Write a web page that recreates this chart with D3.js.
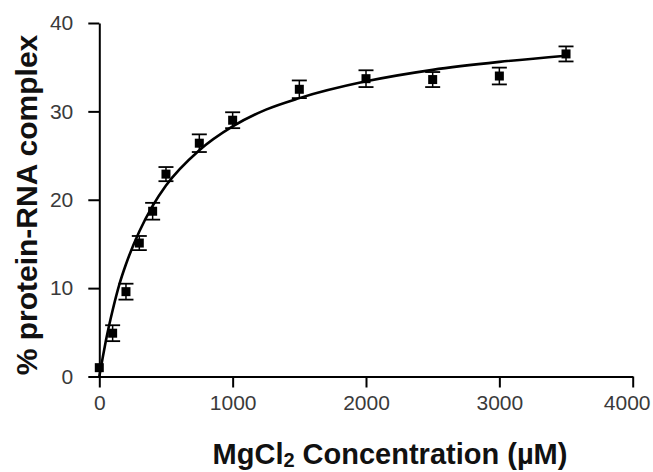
<!DOCTYPE html>
<html>
<head>
<meta charset="utf-8">
<script src="https://cdn.jsdelivr.net/npm/d3@7"></script>
<style>
  body { margin: 0; background: #fff; }
  .tick text { font-family: "Liberation Sans", Arial, sans-serif; font-size: 21px; fill: #3a3a3a; }
  .axis-title { font-family: "Liberation Sans", Arial, sans-serif; font-weight: bold; fill: #111; }
</style>
</head>
<body>
<div id="chart"></div>
<script>
// measured points (MgCl2 in uM, % complex, error)
const concentrations = [0, 100, 200, 300, 400, 500, 750, 1000, 1500, 2000, 2500, 3000, 3500];
const percentComplex = [1.0, 4.9, 9.6, 15.1, 18.7, 22.9, 26.4, 29.0, 32.5, 33.7, 33.6, 34.0, 36.5];
const errors = [0.3, 0.9, 0.9, 0.8, 0.95, 0.8, 1.0, 0.9, 1.0, 0.95, 0.85, 0.95, 0.85];

// fitted binding curve
const fitX = [0, 25, 50, 100, 150, 200, 300, 400, 500, 750, 1000, 1250, 1500, 2000, 2500, 3000, 3500];
const fitY = [0, 2.1, 4.1, 7.5, 10.4, 12.7, 16.4, 19.3, 21.6, 25.6, 28.3, 30.2, 31.5, 33.4, 34.7, 35.6, 36.3];

const xTicks = [0, 1000, 2000, 3000, 4000];
const yTicks = [0, 10, 20, 30, 40];

const W = 653, H = 472;
const svg = d3.select("#chart").append("svg")
    .attr("width", W).attr("height", H);

const x = d3.scaleLinear().domain([0, 4000]).range([99.3, 632.7]);
const y = d3.scaleLinear().domain([0, 40]).range([376.5, 23]);

// x axis
const gx = svg.append("g")
    .attr("transform", "translate(0," + y(0) + ")")
    .call(d3.axisBottom(x).tickValues(xTicks).tickSize(11).tickSizeOuter(0).tickPadding(8).tickFormat(d3.format("d")));
gx.select(".domain").attr("stroke", "#000").attr("stroke-width", 2);
gx.selectAll(".tick line").attr("stroke", "#000").attr("stroke-width", 2);
// last label pulled in so it stays on the page
gx.selectAll(".tick").filter(function(d){ return d === 4000; }).select("text")
    .attr("text-anchor", "end").attr("x", W - 3 - x(4000));

// y axis
const gy = svg.append("g")
    .attr("transform", "translate(" + x(0) + ",0)")
    .call(d3.axisLeft(y).tickValues(yTicks).tickSize(11).tickSizeOuter(0).tickPadding(15));
gy.select(".domain").attr("stroke", "#000").attr("stroke-width", 2);
gy.selectAll(".tick line").attr("stroke", "#000").attr("stroke-width", 2);

// fit line
const fitData = fitX.map(function(d, i){ return [d, fitY[i]]; });
svg.append("path").datum(fitData)
    .attr("fill", "none").attr("stroke", "#000").attr("stroke-width", 2.6)
    .attr("d", d3.line().x(function(d){ return x(d[0]); }).y(function(d){ return y(d[1]); })
        .curve(d3.curveMonotoneX));

// points with error bars
const pts = concentrations.map(function(c, i){ return {c: c, v: percentComplex[i], e: errors[i]}; });
const g = svg.selectAll(".pt").data(pts).enter().append("g").attr("class", "pt");
const cap = 7.5;
g.append("line")
    .attr("x1", function(d){ return x(d.c); }).attr("x2", function(d){ return x(d.c); })
    .attr("y1", function(d){ return y(d.v + d.e); }).attr("y2", function(d){ return y(d.v - d.e); })
    .attr("stroke", "#000").attr("stroke-width", 1.5);
g.filter(function(d){ return d.c > 0; }).append("line")
    .attr("x1", function(d){ return x(d.c) - cap; }).attr("x2", function(d){ return x(d.c) + cap; })
    .attr("y1", function(d){ return y(d.v + d.e); }).attr("y2", function(d){ return y(d.v + d.e); })
    .attr("stroke", "#000").attr("stroke-width", 1.8);
g.filter(function(d){ return d.c > 0; }).append("line")
    .attr("x1", function(d){ return x(d.c) - cap; }).attr("x2", function(d){ return x(d.c) + cap; })
    .attr("y1", function(d){ return y(d.v - d.e); }).attr("y2", function(d){ return y(d.v - d.e); })
    .attr("stroke", "#000").attr("stroke-width", 1.8);
g.append("rect")
    .attr("x", function(d){ return x(d.c) - 4.5; })
    .attr("y", function(d){ return y(d.v) - 4.5; })
    .attr("width", 9).attr("height", 9)
    .attr("fill", "#000");

// axis titles
svg.append("text").attr("class", "axis-title")
    .attr("transform", "translate(37,205) rotate(-90)")
    .attr("text-anchor", "middle")
    .style("font-size", "30px")
    .text("% protein-RNA complex");

const xt = svg.append("text").attr("class", "axis-title")
    .attr("x", 390).attr("y", 464)
    .attr("text-anchor", "middle")
    .style("font-size", "29px");
xt.append("tspan").text("MgCl");
xt.append("tspan").attr("dy", 3).style("font-size", "20px").text("2");
xt.append("tspan").attr("dy", -3).text(" Concentration (\u00B5M)");
</script>
</body>
</html>
